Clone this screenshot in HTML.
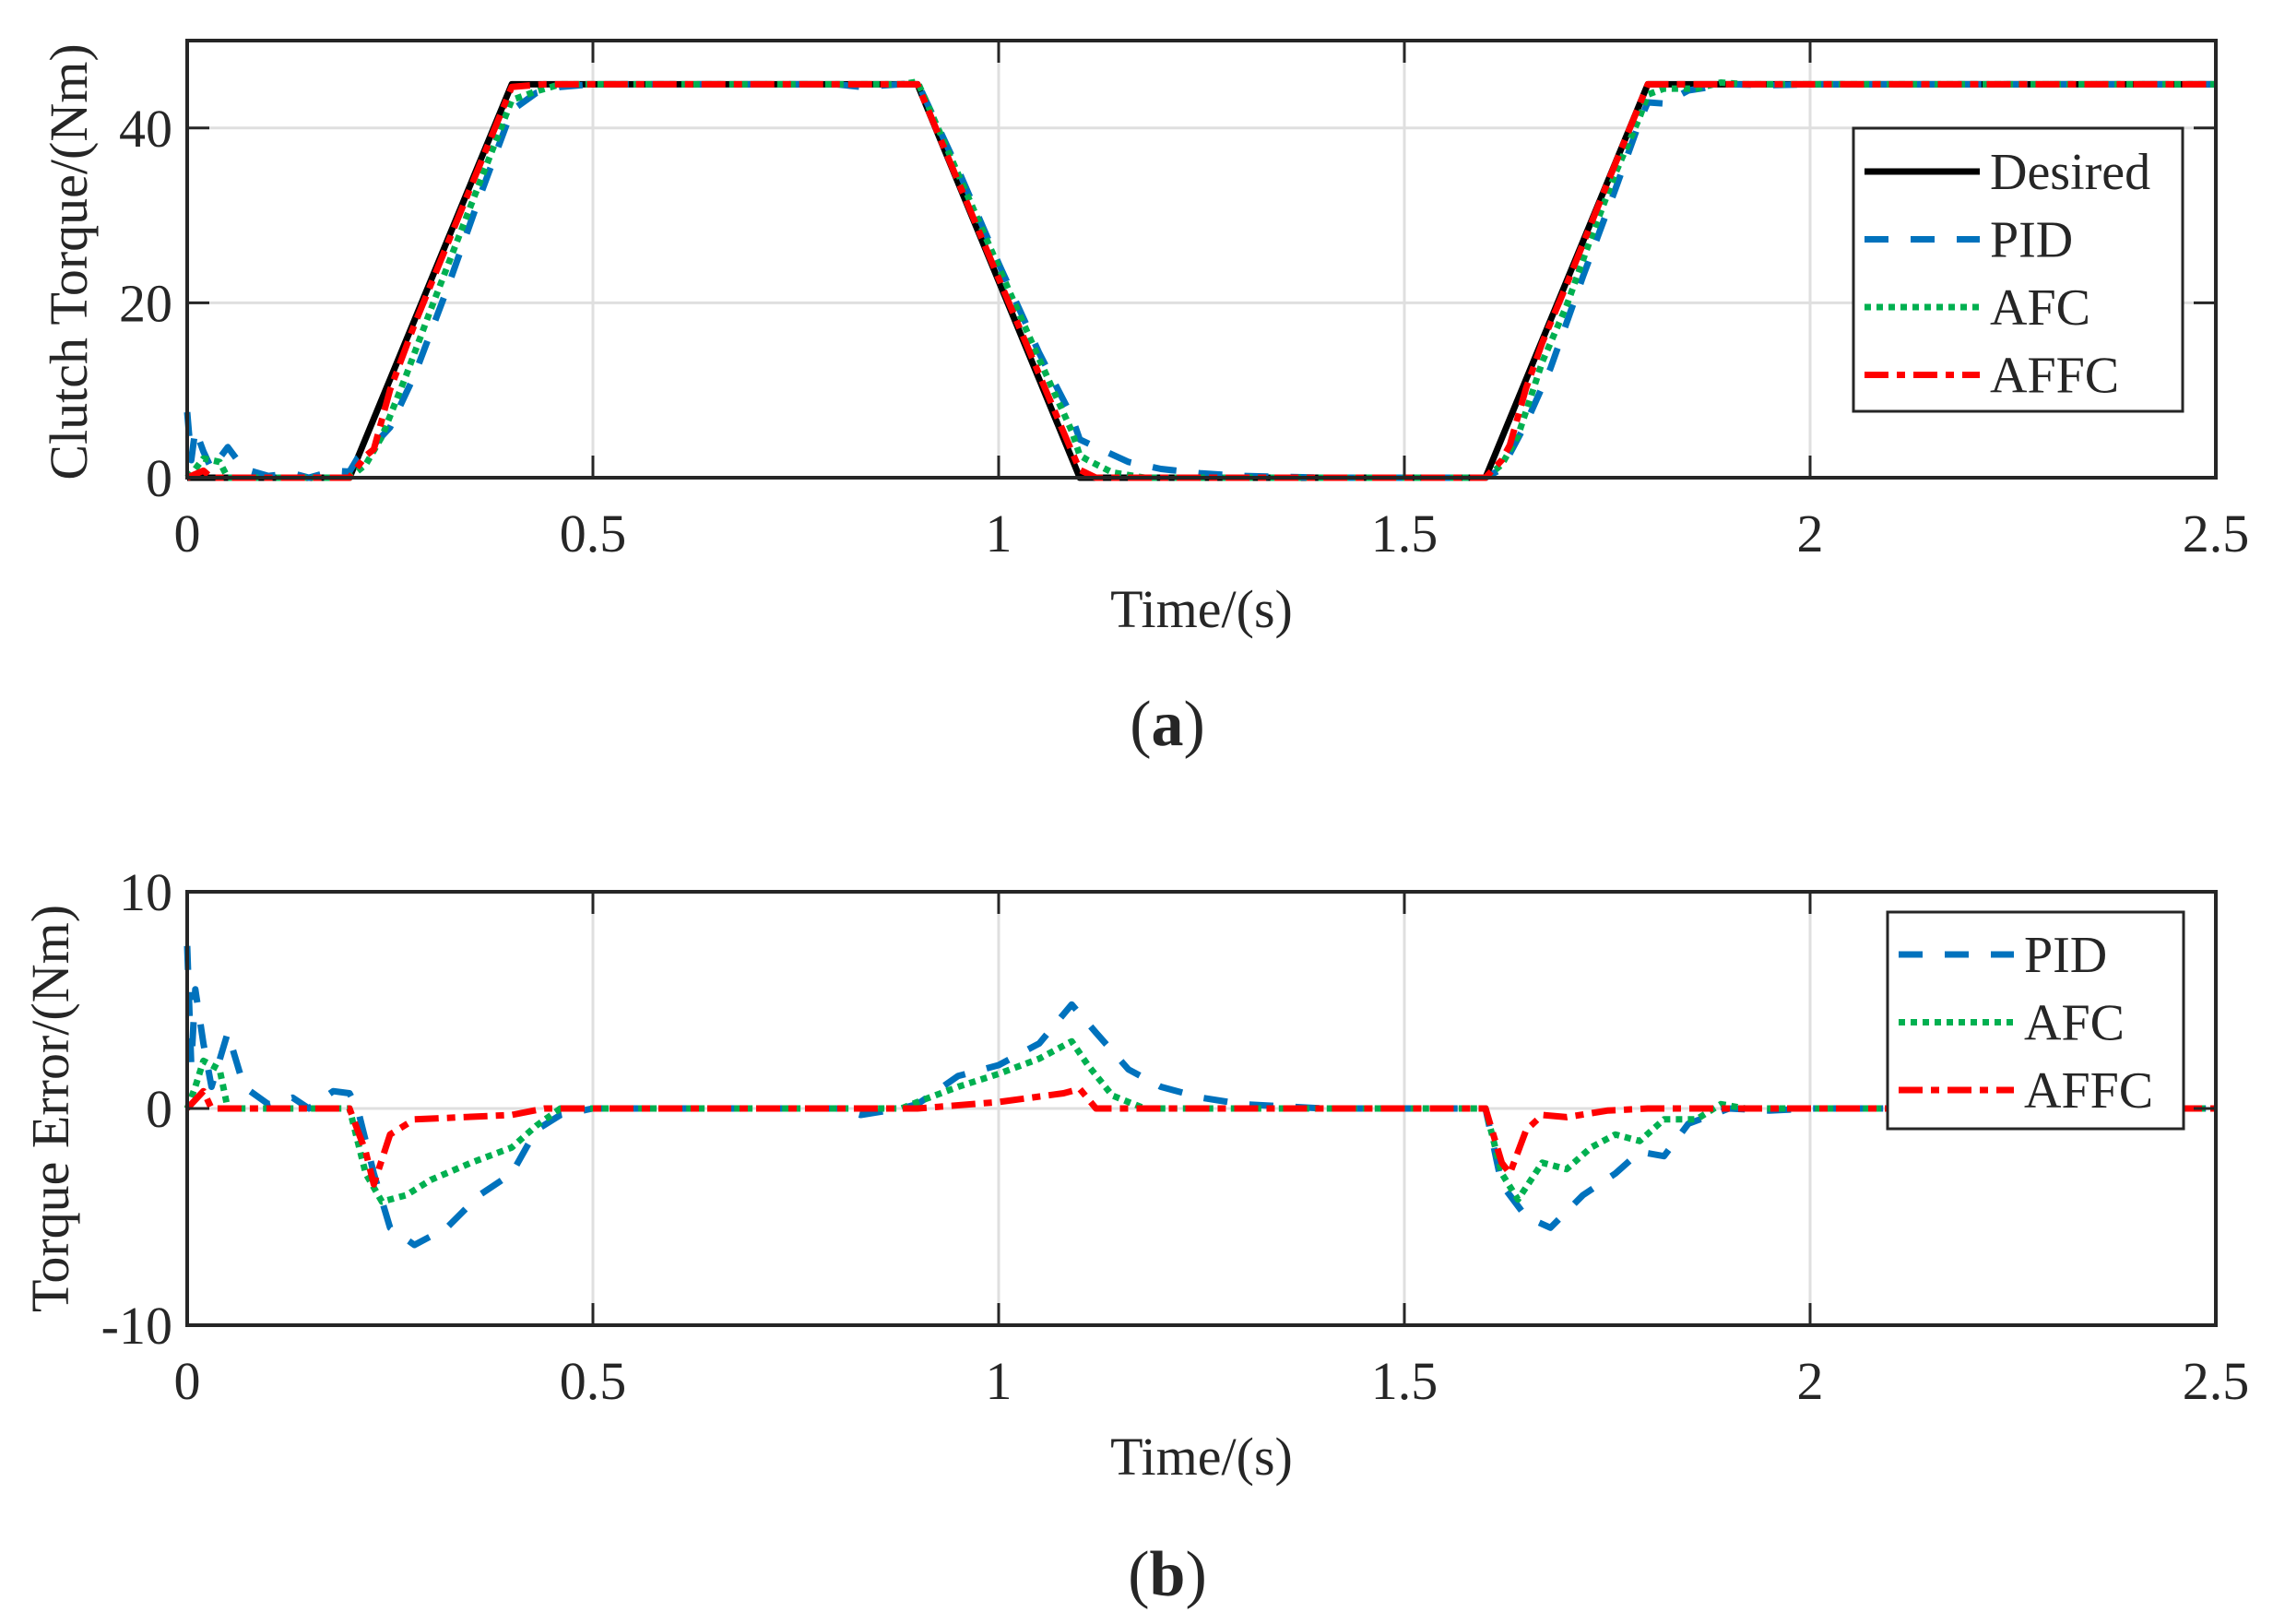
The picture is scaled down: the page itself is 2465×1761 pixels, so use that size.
<!DOCTYPE html>
<html><head><meta charset="utf-8"><style>
html,body{margin:0;padding:0;background:#fff}
svg{display:block}
text{font-family:"Liberation Serif",serif;fill:#262626}
</style></head><body>
<svg id="fig" width="2465" height="1761" viewBox="0 0 2465 1761" xmlns="http://www.w3.org/2000/svg"></svg>
<script>
const xTicks=[0,0.5,1,1.5,2,2.5];
const xTickLabels=["0","0.5","1","1.5","2","2.5"];
const topYTicks=[0,20,40];
const botYTicks=[-10,0,10];
const desiredT=[0,0.2,0.4,0.9,1.1,1.6,1.8,2.5];
const desiredV=[0,0,45,45,0,0,45,45];
const pidT=[0,0.005,0.01,0.02,0.03,0.05,0.07,0.1,0.13,0.15,0.18,0.2,0.21,0.23,0.25,0.28,0.32,0.36,0.4,0.43,0.46,0.5,0.8,0.83,0.88,0.9,0.95,1.0,1.05,1.09,1.12,1.16,1.2,1.25,1.3,1.4,1.6,1.62,1.65,1.68,1.72,1.76,1.79,1.82,1.85,1.9,1.95,2.0,2.5];
const pidE=[7.5,2,5.5,3,1,3.5,1,0.2,0.5,0,0.8,0.7,0,-3,-5.5,-6.3,-5.5,-4,-3,-1,-0.3,0,0,-0.3,0,0.2,1.5,2,3,4.8,3.5,1.8,1,0.5,0.2,0,0,-3.5,-5,-5.5,-4,-3,-2,-2.2,-0.7,0,-0.1,0,0];
const afcT=[0,0.01,0.02,0.04,0.05,0.2,0.22,0.24,0.27,0.3,0.35,0.4,0.43,0.46,0.88,0.9,0.95,1.0,1.05,1.09,1.11,1.14,1.18,1.6,1.62,1.64,1.67,1.7,1.73,1.76,1.79,1.82,1.86,1.89,1.92,2.5];
const afcE=[0,1,2.2,1.8,0,0,-3,-4.3,-4,-3.3,-2.5,-1.8,-0.8,0,0,0.3,1,1.6,2.3,3.1,2,0.6,0,0,-3,-4.2,-2.5,-2.8,-1.8,-1.2,-1.5,-0.5,-0.5,0.2,0,0];
const affcT=[0,0.02,0.03,0.2,0.22,0.23,0.25,0.28,0.4,0.44,0.9,1.0,1.08,1.1,1.12,1.6,1.62,1.63,1.65,1.67,1.7,1.75,1.8,2.5];
const affcE=[0,0.8,0,0,-2,-3.5,-1.2,-0.5,-0.3,0,0,0.3,0.7,0.9,0,0,-2.5,-3,-1,-0.3,-0.4,-0.1,0,0];

const NS="http://www.w3.org/2000/svg";
const svg=document.getElementById('fig');
function el(tag,attrs,parent){const e=document.createElementNS(NS,tag);for(const k in attrs)e.setAttribute(k,attrs[k]);(parent||svg).appendChild(e);return e;}
const X0=203,X1=2403;
function xs(t){return X0+(t-0)/(2.5)*(X1-X0);}
function desiredAt(t){for(let i=0;i<desiredT.length-1;i++){if(t>=desiredT[i]&&t<=desiredT[i+1]){const f=(t-desiredT[i])/(desiredT[i+1]-desiredT[i]);return desiredV[i]+f*(desiredV[i+1]-desiredV[i]);}}return desiredV[desiredV.length-1];}
function mergedTimes(ts){const s=new Set(ts.concat(desiredT));return Array.from(s).sort((a,b)=>a-b);}
function errAt(ts,es,t){for(let i=0;i<ts.length-1;i++){if(t>=ts[i]&&t<=ts[i+1]){const f=(t-ts[i])/(ts[i+1]-ts[i]);return es[i]+f*(es[i+1]-es[i]);}}return es[es.length-1];}
const styles={
 desired:{stroke:"#000000",dash:""},
 pid:{stroke:"#0072BD",dash:"26,24"},
 afc:{stroke:"#00B050",dash:"7,6"},
 affc:{stroke:"#FF0000",dash:"26,9,9,9"}
};
function axes(name,top,bottom,yMin,yMax,yTicks){
 const g=el('g',{});
 
 
 const ys=v=>bottom-(v-yMin)/(yMax-yMin)*(bottom-top);
 xTicks.forEach((t,i)=>{
  if(i>0&&i<xTicks.length-1){const gl=el('line',{x1:xs(t),x2:xs(t),y1:top,y2:bottom,stroke:"#dfdfdf","stroke-width":3},g);}
 });
 yTicks.forEach(v=>{
  if(v>yMin&&v<yMax){const gl=el('line',{x1:X0,x2:X1,y1:ys(v),y2:ys(v),stroke:"#dfdfdf","stroke-width":3},g);}
 });
 return {g,ys};
}
function frame(g,top,bottom,yMin,yMax,yTicks,ys){
 el('rect',{x:X0,y:top,width:X1-X0,height:bottom-top,fill:"none",stroke:"#262626","stroke-width":4},g);
 xTicks.forEach((t,i)=>{
  el('line',{x1:xs(t),x2:xs(t),y1:bottom,y2:bottom-24,stroke:"#262626","stroke-width":3},g);
  el('line',{x1:xs(t),x2:xs(t),y1:top,y2:top+24,stroke:"#262626","stroke-width":3},g);
  const tx=el('text',{x:xs(t),y:bottom+80,"font-size":58,"text-anchor":"middle"},g);
  tx.textContent=xTickLabels[i];
  
  
 });
 yTicks.forEach(v=>{
  el('line',{x1:X0,x2:X0+24,y1:ys(v),y2:ys(v),stroke:"#262626","stroke-width":3},g);
  el('line',{x1:X1,x2:X1-24,y1:ys(v),y2:ys(v),stroke:"#262626","stroke-width":3},g);
  const tx=el('text',{x:X0-16,y:ys(v)+20,"font-size":58,"text-anchor":"end"},g);
  tx.textContent=String(v);
  
  
 });
}
function path(g,pts,ys,key,name){
 const d=pts.map((p,i)=>(i?'L':'M')+xs(p[0]).toFixed(1)+','+ys(p[1]).toFixed(1)).join(' ');
 const p=el('path',{d,fill:"none",stroke:styles[key].stroke,"stroke-width":7,"stroke-dasharray":styles[key].dash,"stroke-linejoin":"round"},g);
 
 
}
function legend(g,x,y,w,h,entries,y0,dy){
 const lg=el('g',{},g);
 
 
 el('rect',{x,y,width:w,height:h,fill:"#fff",stroke:"#262626","stroke-width":3},lg);
 entries.forEach((e,i)=>{
  const yy=y0+i*dy;
  const ln=el('line',{x1:x+12,x2:x+137,y1:yy,y2:yy,stroke:styles[e[0]].stroke,"stroke-width":7,"stroke-dasharray":styles[e[0]].dash},lg);
  
  
  const t=el('text',{x:x+148,y:yy+19,"font-size":56,fill:"#000"},lg);
  t.textContent=e[1];
  
  
 });
}
// Top
(function(){
 const top=44,bottom=518;
 const {g,ys}=axes('clutch-torque-chart',top,bottom,0,50,topYTicks);
 const series=[['pid',pidT,pidE],['afc',afcT,afcE],['affc',affcT,affcE]];
 const desPts=desiredT.map((t,i)=>[t,desiredV[i]]);
 path(g,desPts,ys,'desired','desired-line');
 series.forEach(s=>{
  const ts=mergedTimes(s[1]);
  const pts=ts.map(t=>[t,Math.max(-1,Math.min(50,desiredAt(t)+errAt(s[1],s[2],t)))]);
  path(g,pts,ys,s[0],s[0]+'-torque-line');
 });
 frame(g,top,bottom,0,50,topYTicks,ys);
 legend(g,2010,139,357,307,[['desired','Desired'],['pid','PID'],['afc','AFC'],['affc','AFFC']],186,73.5);
 const yl=el('text',{x:0,y:0,"font-size":58,"text-anchor":"middle",transform:"translate(94,284) rotate(-90)"},g);
 yl.textContent="Clutch Torque/(Nm)";
 
 
 const xl=el('text',{x:1303,y:680,"font-size":58,"text-anchor":"middle"},g);
 xl.textContent="Time/(s)";
 
 
 const cap=el('text',{x:1266,y:808,"font-size":70,"text-anchor":"middle",fill:"#000"},g);
 cap.innerHTML='(<tspan font-weight="bold">a</tspan>)';
 
 
})();
// Bottom
(function(){
 const top=967,bottom=1437;
 const {g,ys}=axes('torque-error-chart',top,bottom,-10,10,botYTicks);
 [['pid',pidT,pidE],['afc',afcT,afcE],['affc',affcT,affcE]].forEach(s=>{
  path(g,s[1].map((t,i)=>[t,s[2][i]]),ys,s[0],s[0]+'-error-line');
 });
 frame(g,top,bottom,-10,10,botYTicks,ys);
 legend(g,2047,989,321,235,[['pid','PID'],['afc','AFC'],['affc','AFFC']],1035,73.5);
 const yl=el('text',{x:0,y:0,"font-size":58,"text-anchor":"middle",transform:"translate(74,1202) rotate(-90)"},g);
 yl.textContent="Torque Error/(Nm)";
 
 
 const xl=el('text',{x:1303,y:1599,"font-size":58,"text-anchor":"middle"},g);
 xl.textContent="Time/(s)";
 
 
 const cap=el('text',{x:1266,y:1730,"font-size":70,"text-anchor":"middle",fill:"#000"},g);
 cap.innerHTML='(<tspan font-weight="bold">b</tspan>)';
 
 
})();
</script>
</body></html>
